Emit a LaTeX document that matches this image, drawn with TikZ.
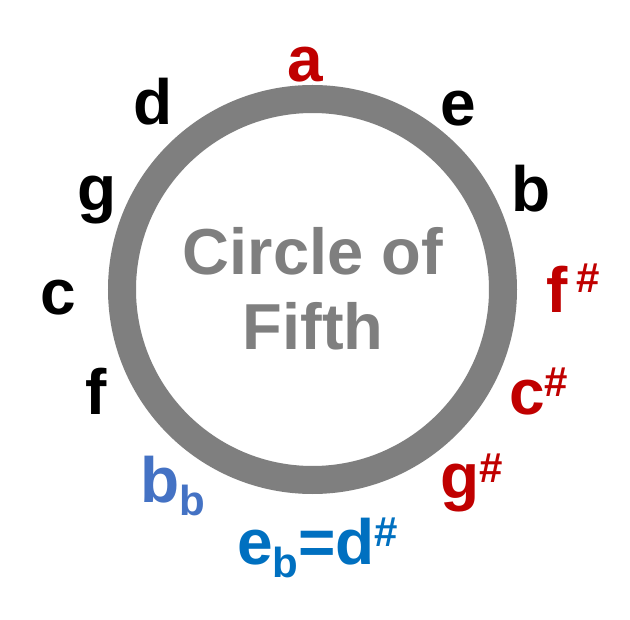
\documentclass[tikz,border=0pt]{standalone}
\usepackage{fontspec}
\setmainfont{Liberation Sans}
\definecolor{cofred}{HTML}{C00000}
\definecolor{cofblue}{HTML}{0070C0}
\definecolor{coflblue}{HTML}{4472C4}
\definecolor{cofgray}{HTML}{7F7F7F}
\newcommand{\cofsharp}[1]{\raisebox{#1pt}{\fontsize{42}{42}\selectfont\#}}
\newcommand{\cofflat}{\raisebox{-13pt}{\fontsize{42}{42}\selectfont b}}
\begin{document}
\begin{tikzpicture}[x=1pt,y=-1pt,
  lbl/.style={inner sep=0pt,outer sep=0pt,font=\fontsize{64}{64}\selectfont\bfseries,anchor=base},
  lblw/.style={lbl,anchor=base west},
  ctr/.style={inner sep=0pt,font=\fontsize{65}{65}\selectfont\bfseries,text=cofgray,anchor=base}]
\useasboundingbox[fill=white] (0,0) rectangle (630,620);
\draw[cofgray,line width=28pt] (312.5,289.5) circle[radius=190.5];
\node[ctr] (t1) at (313,275) {Circle of};
\node[ctr] (t2) at (313,350) {Fifth};
\node[lbl,text=cofred] (na) at (305,82) {a};
\node[lbl] (ne) at (458,126) {e};
\node[lbl] (nb) at (531,212) {b};
\node[lbl] (nd) at (153,125) {d};
\node[lbl] (ng) at (97,211) {g};
\node[lbl] (nc) at (58,315) {c};
\node[lbl] (nf) at (96,415) {f};
\node[lblw,text=cofred] (nfs) at (546,313) {f\hspace{9pt}\cofsharp{20}};
\node[lblw,text=cofred] (ncs) at (509,415) {c\cofsharp{18}};
\node[lblw,text=cofred] (ngs) at (440,499) {g\cofsharp{16}};
\node[lblw,text=coflblue] (nbb) at (140,503) {b\cofflat};
\node[lblw,text=cofblue] (neb) at (237,565) {e\cofflat=d\cofsharp{18}};
\end{tikzpicture}
\end{document}
